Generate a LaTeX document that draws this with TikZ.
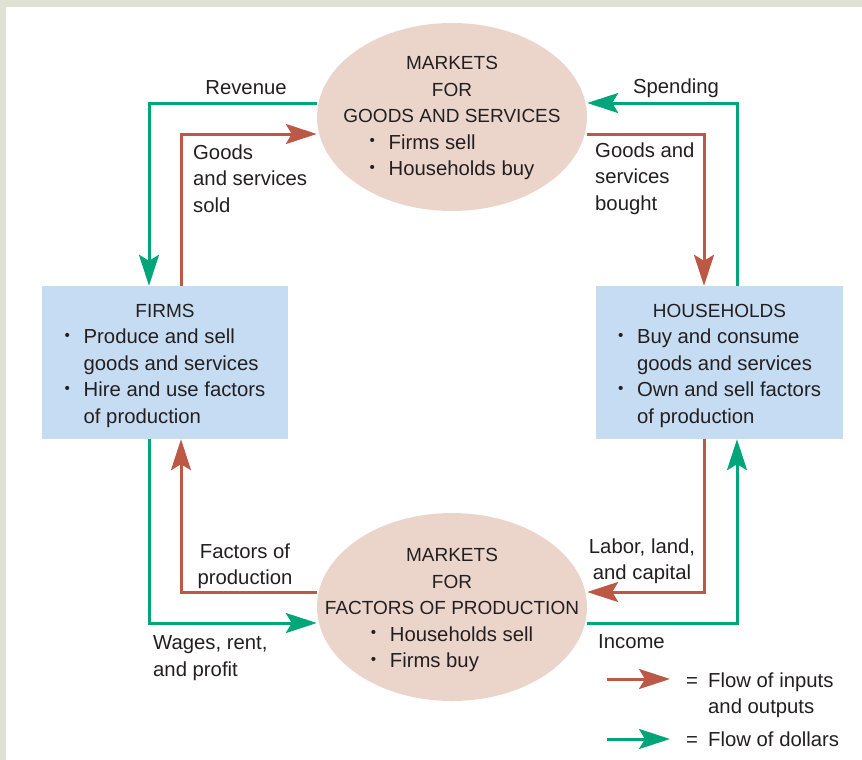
\documentclass[tikz,border=0pt]{standalone}
\usepackage{fontspec}
\setmainfont{Liberation Sans}
\usetikzlibrary{arrows.meta,shapes.geometric}
\definecolor{bandc}{RGB}{223,226,211}
\definecolor{marketc}{RGB}{235,213,203}
\definecolor{agentc}{RGB}{197,220,242}
\definecolor{inputc}{RGB}{187,88,70}
\definecolor{dollarc}{RGB}{0,166,122}
\definecolor{inkc}{RGB}{35,31,32}
\newcommand{\itm}{\makebox[19pt][l]{\raisebox{0.3ex}{\scalebox{0.75}{\textbullet}}}}
\newcommand{\ind}{\hspace*{19pt}}
\newcommand{\eqs}{\makebox[22pt][l]{=}}
\newcommand{\capsz}{\fontsize{19}{26.5}\selectfont}
\tikzset{
  txt/.style={font=\fontsize{20.3}{26.5}\selectfont, text=inkc, inner sep=0pt},
  market/.style={ellipse, fill=marketc, minimum width=270pt, minimum height=188pt, inner sep=0pt},
  agent/.style={rectangle, fill=agentc, minimum width=246pt, minimum height=153pt, inner sep=0pt},
  inside/.style={txt, align=center},
  lbl/.style={txt, align=left},
  flow/.style={line width=3pt, -{Stealth[length=31pt,width=20pt,inset=6pt]}},
  goods/.style={flow, draw=inputc},
  dollar/.style={flow, draw=dollarc}
}
\begin{document}
\begin{tikzpicture}[x=1pt,y=-1pt]
      \useasboundingbox (0,0) rectangle (862,760);
      \fill[bandc] (0,0) rectangle (862,760);
      \fill[white] (6,7) rectangle (862,760);
      \node[market] (goodsmkt) at (452,117) {};
      \node[market] (factormkt) at (452,607) {};
      \node[agent] (firms) at (165,362.5) {};
      \node[agent, minimum width=247pt] (households) at (719.5,362.5) {};
      \node[inside] (goodstxt) at ([yshift=-3pt]goodsmkt.center)
        {{\capsz MARKETS}\\{\capsz FOR}\\{\capsz GOODS AND SERVICES}\\
         \begin{tabular}[t]{@{}l@{}}\itm Firms sell\\\itm Households buy\end{tabular}};
      \node[inside] (factortxt) at ([yshift=-5pt]factormkt.center)
        {{\capsz MARKETS}\\{\capsz FOR}\\{\capsz FACTORS OF PRODUCTION}\\
         \begin{tabular}[t]{@{}l@{}}\itm Households sell\\\itm Firms buy\end{tabular}};
      \node[inside] (firmstxt) at ([yshift=-5pt]firms.center)
        {{\capsz FIRMS}\\
         \begin{tabular}[t]{@{}l@{}}\itm Produce and sell\\\ind goods and services\\
           \itm Hire and use factors\\\ind of production\end{tabular}};
      \node[inside] (housetxt) at ([yshift=-5pt]households.center)
        {{\capsz HOUSEHOLDS}\\
         \begin{tabular}[t]{@{}l@{}}\itm Buy and consume\\\ind goods and services\\
           \itm Own and sell factors\\\ind of production\end{tabular}};
      \node[lbl] (revlbl) at (246,88) {Revenue};
      \node[lbl, anchor=west] (soldlbl) at (193,178.5) {Goods\\and services\\sold};
      \node[lbl] (spendlbl) at (676,88) {Spending};
      \node[lbl, anchor=west] (boughtlbl) at (595,178.5) {Goods and\\services\\bought};
      \node[lbl, align=center] (factlbl) at (245,566.5) {Factors of\\production};
      \node[lbl, anchor=west] (wagelbl) at (153,658) {Wages, rent,\\and profit};
      \node[lbl, align=center] (laborlbl) at (642,561) {Labor, land,\\and capital};
      \node[lbl, anchor=west] (inclbl) at (598,642) {Income};
      \begin{scope}
        \draw[dollar] ([yshift=14pt]goodsmkt.west) -| ([xshift=-16pt]firms.north);
        \draw[goods] ([xshift=16pt]firms.north) |- ([yshift=-17pt]goodsmkt.west);
        \draw[dollar] ([xshift=17.5pt]households.north) |- ([yshift=14pt]goodsmkt.east);
        \draw[goods] ([yshift=-17pt]goodsmkt.east) -| ([xshift=-15.5pt]households.north);
        \draw[goods] ([yshift=15pt]factormkt.west) -| ([xshift=16pt]firms.south);
        \draw[dollar] ([xshift=-16pt]firms.south) |- ([yshift=-16pt]factormkt.west);
        \draw[goods] ([xshift=-15.5pt]households.south) |- ([yshift=15pt]factormkt.east);
        \draw[dollar] ([yshift=-16pt]factormkt.east) -| ([xshift=17.5pt]households.south);
      \end{scope}
      \coordinate (inA) at (607,679);
      \coordinate (inB) at (670,679);
      \coordinate (dolA) at (607,739);
      \coordinate (dolB) at (670,739);
      \draw[goods] (inA) -- (inB);
      \draw[dollar] (dolA) -- (dolB);
      \node[lbl, anchor=west] (inleg) at (686,695) {\eqs Flow of inputs\\\hspace*{22pt}and outputs};
      \node[lbl, anchor=west] (dolleg) at (686,739) {\eqs Flow of dollars};
    \end{tikzpicture}
\end{document}
